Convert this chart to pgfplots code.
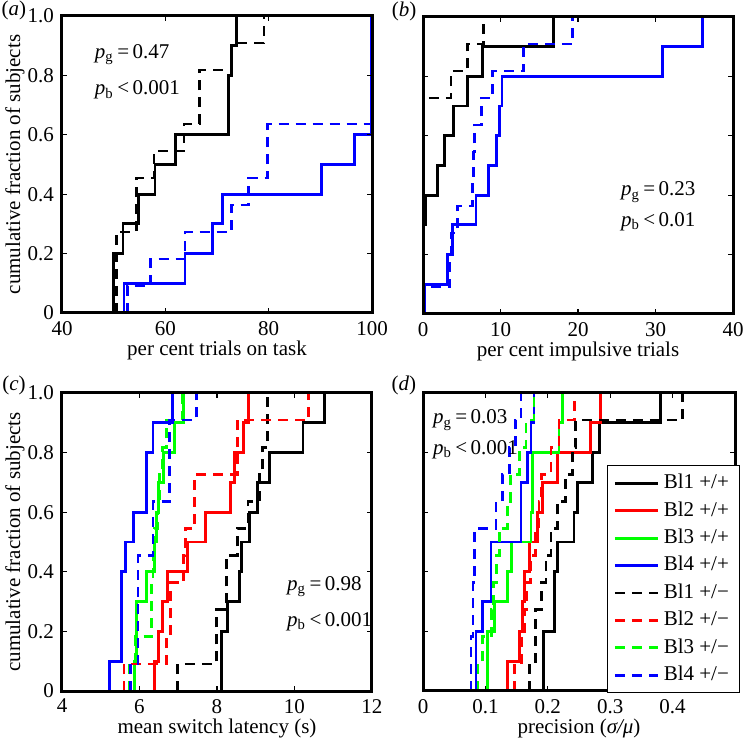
\documentclass[border=0pt]{standalone}
\usepackage{fontspec}
\setmainfont{Liberation Serif}
\usepackage{pgfplots}
\pgfplotsset{compat=1.18}

\definecolor{mblue}{RGB}{0,0,255}
\definecolor{mred}{RGB}{255,0,0}
\definecolor{mgreen}{RGB}{0,255,0}

\pgfplotsset{
  cdf/.style={
    scale only axis, width=155pt, height=148.5pt,
    font=\fontsize{10.5}{12.6}\selectfont,
    ymin=0, ymax=1, clip=false,
    ytick={0,0.2,0.4,0.6,0.8,1}, yticklabels={0,0.2,0.4,0.6,0.8,1.0},
    tick align=inside, major tick length=2.5pt,
    line width=1.5pt,
    axis line style={line width=1.5pt},
    tick style={black, line width=0.6pt},
    xlabel style={at={(axis description cs:0.5,-0.125)}, anchor=center},
    ylabel style={at={(axis description cs:-0.152,0.5)}, anchor=center},
    axis on top,
  },
  s/.style={const plot, line width=1.4pt, no marks},
  d/.style={const plot, line width=1.4pt, no marks, dash pattern=on 5pt off 3.5pt},
}
\newcommand{\pg}[1]{\textit{p}\textsubscript{g}\,=\,#1}
\newcommand{\pb}[1]{\textit{p}\textsubscript{b}\,<\,#1}

\begin{document}
\begin{tikzpicture}
\useasboundingbox (0,0) rectangle (372pt,-371pt);

% (a)
\begin{axis}[cdf, at={(31pt,-156.5pt)}, anchor=south west,
  xmin=40, xmax=100, xtick={40,60,80,100}, xticklabels={40,60,80,100},
  xlabel={per cent trials on task}, ylabel={cumulative fraction of subjects}]
\addplot[s, black] coordinates {(50,0)(50,0.2)(51.8,0.3)(54.8,0.4)(58,0.5)(62,0.6)(72.2,0.8)(72.8,0.9)(73.7,1)};
\addplot[s, mblue] coordinates {(52,0)(52,0.1)(63.8,0.2)(69.2,0.3)(71.1,0.4)(90.3,0.5)(96.6,0.6)(99.8,1)};
\addplot[d, black] coordinates {(50.5,0)(50.5,0.2727)(54.4,0.4545)(57.8,0.5455)(63.6,0.6364)(66.6,0.8182)(72.8,0.9091)(79.1,1)};
\addplot[d, mblue] coordinates {(52.7,0)(52.7,0.0909)(57.1,0.1818)(63.8,0.2727)(72.8,0.3636)(76.1,0.4545)(79.8,0.6364)(99.8,1)};
\node[anchor=west] at (axis cs:44.8,0.87) {\pg{0.47}};
\node[anchor=west] at (axis cs:44.8,0.75) {\pb{0.001}};
\node at (axis description cs:-0.155,1.02) {(\textit{a})};
\end{axis}

% (b)
\begin{axis}[cdf, at={(211.5pt,-157pt)}, anchor=south west,
  xmin=0, xmax=40, xtick={0,10,20,30,40}, xticklabels={0,10,20,30,40},
  yticklabels={}, xlabel={per cent impulsive trials}]
\addplot[s, black] coordinates {(0,0)(0,0.3)(0.3,0.4)(1.9,0.5)(2.76,0.6)(3.96,0.7)(5.77,0.8)(7.7,0.9)(16.8,1)};
\addplot[s, mblue] coordinates {(0.2,0)(0.2,0.1)(3.19,0.2)(3.83,0.3)(6.84,0.4)(8.44,0.5)(9.51,0.6)(9.9,0.7)(10.2,0.8)(30.9,0.9)(36.1,1)};
\addplot[d, black] coordinates {(0.1,0)(0.1,0.7273)(3.6,0.8182)(5.7,0.9091)(7.8,1)};
\addplot[d, mblue] coordinates {(0.1,0)(0.1,0.0909)(3.4,0.1818)(3.6,0.2727)(4.4,0.3636)(6.4,0.4545)(6.5,0.5455)(6.6,0.6364)(7.5,0.7273)(9.0,0.8182)(13.0,0.9091)(19.3,1)};
\node[anchor=west] at (axis cs:24.5,0.41) {\pg{0.23}};
\node[anchor=west] at (axis cs:24.5,0.31) {\pb{0.01}};
\node at (axis description cs:-0.061,1.02) {(\textit{b})};
\end{axis}

% (c)
\begin{axis}[cdf, at={(31pt,-345.5pt)}, anchor=south west, height=149pt,
  xmin=4, xmax=12, xtick={4,6,8,10,12}, xticklabels={4,6,8,10,12},
  xlabel={mean switch latency (s)}, ylabel={cumulative fraction of subjects}]
\addplot[s, black] coordinates {(8.11,0)(8.11,0.2)(8.28,0.3)(8.59,0.4)(8.63,0.5)(8.83,0.6)(9.04,0.7)(9.36,0.8)(10.22,0.9)(10.78,1)};
\addplot[s, mred] coordinates {(6.39,0)(6.39,0.1)(6.49,0.2)(6.59,0.3)(6.72,0.4)(7.23,0.5)(7.71,0.6)(8.34,0.7)(8.46,0.8)(8.69,0.9)(8.82,1)};
\addplot[s, mgreen] coordinates {(5.88,0)(5.88,0.1)(5.92,0.3)(6.18,0.4)(6.39,0.5)(6.43,0.6)(6.50,0.7)(6.61,0.8)(6.91,0.9)(7.14,1)};
\addplot[s, mblue] coordinates {(5.23,0)(5.23,0.1)(5.53,0.4)(5.64,0.5)(5.85,0.6)(6.18,0.8)(6.35,0.9)(6.85,1)};
\addplot[d, black] coordinates {(6.99,0)(6.99,0.0909)(7.98,0.2727)(8.24,0.4545)(8.52,0.5455)(8.80,0.6364)(9.10,0.7273)(9.17,0.8182)(9.30,1)};
\addplot[d, mred] coordinates {(5.6,0)(5.6,0.0909)(6.69,0.1818)(6.80,0.3636)(7.14,0.4545)(7.18,0.5455)(7.42,0.7273)(8.52,0.9091)(10.37,1)};
\addplot[d, mgreen] coordinates {(5.75,0)(5.75,0.0909)(5.90,0.1818)(6.31,0.3636)(6.35,0.4545)(6.39,0.5455)(6.48,0.6364)(6.52,0.7273)(6.59,0.8182)(6.69,0.9091)(7.11,1)};
\addplot[d, mblue] coordinates {(5.76,0)(5.76,0.0909)(5.96,0.4545)(6.35,0.6364)(6.78,0.9091)(7.47,1)};
\node[anchor=west] at (axis cs:9.6,0.35) {\pg{0.98}};
\node[anchor=west] at (axis cs:9.6,0.233) {\pb{0.001}};
\node at (axis description cs:-0.155,1.027) {(\textit{c})};
\end{axis}

% (d)
\begin{axis}[cdf, at={(211.5pt,-345.5pt)}, anchor=south west, width=156pt, height=149pt,
  xmin=0, xmax=0.5, xtick={0,0.1,0.2,0.3,0.4}, xticklabels={0,0.1,0.2,0.3,0.4},
  yticklabels={}, xlabel={precision (\textit{σ/μ})},
  legend cell align=left,
  legend style={at={(axis description cs:0.59,0.758)}, anchor=north west,
    draw=black, line width=0.5pt, fill=white, row sep=0pt,
    font=\fontsize{10.5}{12.6}\selectfont,
    nodes={text height=7.3pt, text depth=2pt, inner sep=2.2pt}},
  legend image code/.code={\draw[#1] plot coordinates {(0pt,0pt) (21.5pt,0pt)};}]
\addplot[s, black] coordinates {(0.193,0)(0.193,0.2)(0.211,0.4)(0.216,0.5)(0.242,0.6)(0.248,0.7)(0.271,0.8)(0.283,0.9)(0.381,1)};
\addplot[s, mred] coordinates {(0.136,0)(0.136,0.1)(0.154,0.2)(0.159,0.3)(0.163,0.4)(0.171,0.5)(0.184,0.6)(0.192,0.7)(0.215,0.8)(0.268,0.9)(0.285,1)};
\addplot[s, mgreen] coordinates {(0.103,0)(0.103,0.2)(0.115,0.3)(0.136,0.4)(0.142,0.5)(0.173,0.6)(0.176,0.8)(0.218,0.9)(0.224,1)};
\addplot[s, mblue] coordinates {(0.085,0)(0.085,0.2)(0.095,0.3)(0.109,0.5)(0.157,0.7)(0.168,0.8)(0.173,0.9)(0.178,1)};
\addplot[d, black] coordinates {(0.171,0)(0.171,0.0909)(0.180,0.2727)(0.190,0.3636)(0.197,0.4545)(0.205,0.5455)(0.215,0.6364)(0.228,0.7273)(0.240,0.8182)(0.245,0.9091)(0.416,1)};
\addplot[d, mred] coordinates {(0.147,0)(0.147,0.0909)(0.158,0.1818)(0.163,0.2727)(0.166,0.3636)(0.172,0.4545)(0.180,0.5455)(0.186,0.6364)(0.190,0.7273)(0.205,0.8182)(0.218,0.9091)(0.243,1)};
\addplot[d, mgreen] coordinates {(0.088,0)(0.088,0.0909)(0.095,0.1818)(0.110,0.2727)(0.113,0.3636)(0.118,0.4545)(0.122,0.5455)(0.135,0.6364)(0.140,0.7273)(0.155,0.8182)(0.165,0.9091)(0.178,1)};
\addplot[d, mblue] coordinates {(0.077,0)(0.077,0.1818)(0.080,0.3636)(0.083,0.5455)(0.117,0.6364)(0.127,0.7273)(0.138,0.8182)(0.148,0.9091)(0.157,1)};
\legend{Bl1 +/+, Bl2 +/+, Bl3 +/+, Bl4 +/+, Bl1 +/−, Bl2 +/−, Bl3 +/−, Bl4 +/−}
\node[anchor=west] at (axis cs:0.003,0.909) {\pg{0.03}};
\node[anchor=west] at (axis cs:0.003,0.809) {\pb{0.001}};
\node at (axis description cs:-0.061,1.027) {(\textit{d})};
\end{axis}
\end{tikzpicture}
\end{document}
